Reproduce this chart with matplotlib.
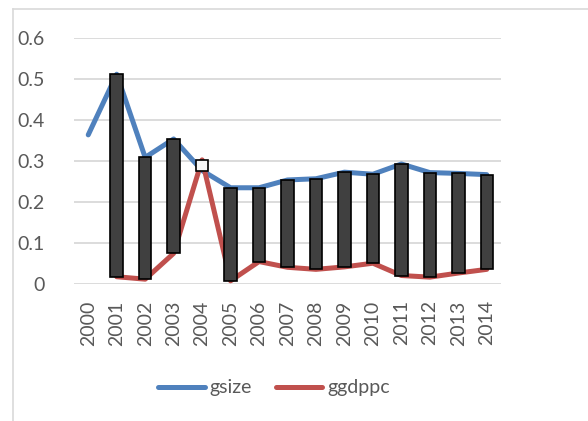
import numpy as np
import matplotlib
matplotlib.use("Agg")
import matplotlib.pyplot as plt
from matplotlib.lines import Line2D

years = [str(y) for y in range(2000, 2015)]
gsize = [0.363, 0.511, 0.308, 0.353, 0.276, 0.234, 0.234, 0.253, 0.256, 0.272,
         0.267, 0.292, 0.271, 0.269, 0.266]
ggdppc = [np.nan, 0.017, 0.011, 0.074, 0.302, 0.007, 0.054, 0.040, 0.035, 0.041,
          0.050, 0.020, 0.016, 0.026, 0.035]
yticks = [0, 0.1, 0.2, 0.3, 0.4, 0.5, 0.6]
ytick_labels = ["0", "0.1", "0.2", "0.3", "0.4", "0.5", "0.6"]

plt.rcParams['font.family'] = ['Lato', 'DejaVu Sans']

W, H = 588, 421
fig = plt.figure(figsize=(W / 100, H / 100), dpi=100)
ax = fig.add_axes([74 / W, 1 - 283.7 / H, (501 - 74) / W, (283.7 - 37.7) / H])

x = np.arange(len(years))
g = np.array(gsize)
d = np.array(ggdppc)

blue = '#4F81BD'
red = '#C0504D'
ax.plot(x, g, color=blue, lw=3.6, solid_capstyle='round', solid_joinstyle='round', zorder=3, label='gsize')
ax.plot(x, d, color=red, lw=3.6, solid_capstyle='round', solid_joinstyle='round', zorder=3, label='ggdppc')

mask = ~np.isnan(d)
lo = np.minimum(g, d)
hi = np.maximum(g, d)
colors = np.where(d > g, '#F8F8F8', '#404040')
ax.bar(x[mask], (hi - lo)[mask], bottom=lo[mask], width=0.44,
       color=colors[mask], edgecolor='black', linewidth=1.2, zorder=4)

ax.set_xlim(-0.5, len(years) - 0.5)
ax.set_ylim(0, 0.6)
ax.set_yticks(yticks)
ax.set_yticklabels(ytick_labels)
ax.set_xticks(x)
ax.set_xticklabels(years, rotation=90)
ax.tick_params(axis='both', length=0, colors='#595959', labelsize=14)
ax.tick_params(axis='y', pad=21)
ax.tick_params(axis='x', pad=12)
ax.grid(axis='y', color='#D9D9D9', lw=1.3, zorder=0)
ax.set_axisbelow(True)
for s in ax.spines.values():
    s.set_visible(False)

leg = fig.legend(handles=[Line2D([], [], color=blue, lw=3.6, solid_capstyle='round'),
                          Line2D([], [], color=red, lw=3.6, solid_capstyle='round')],
                 labels=['gsize', 'ggdppc'], loc='center', ncol=2,
                 bbox_to_anchor=(274 / W, 1 - 388 / H), frameon=False,
                 fontsize=14, handlelength=2.4, handletextpad=0.25, columnspacing=1.2,
                 labelcolor='#595959')

fig.add_artist(Line2D([13 / W, 13 / W], [0, 1 - 9 / H], color='#D9D9D9', lw=1.2, transform=fig.transFigure))
fig.add_artist(Line2D([13 / W, 1], [1 - 9 / H, 1 - 9 / H], color='#D9D9D9', lw=1.2, transform=fig.transFigure))

fig.savefig('out.png', dpi=100, facecolor='white')
